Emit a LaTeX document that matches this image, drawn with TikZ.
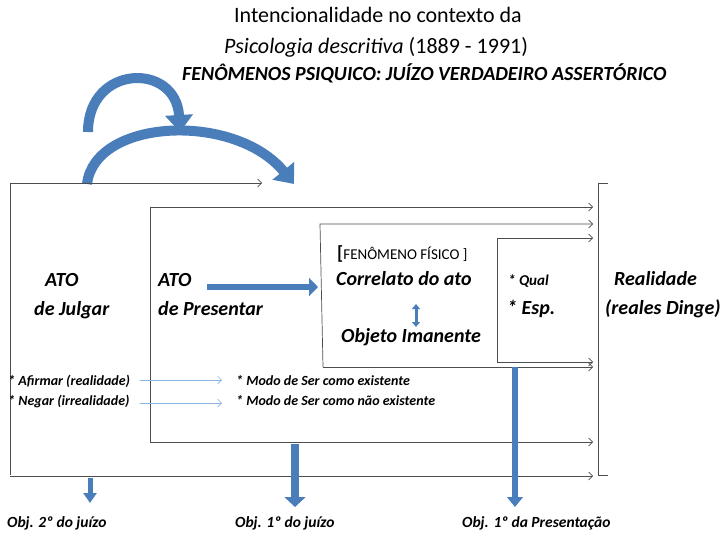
\documentclass[tikz,border=0pt]{standalone}
\usepackage{fontspec}
\setmainfont{Carlito}
\usetikzlibrary{arrows.meta}
\definecolor{officeblue}{HTML}{4A7EBB}
\definecolor{framegray}{HTML}{4D4D4D}
\definecolor{lightarrow}{HTML}{8DB3E2}

\begin{document}
\begin{tikzpicture}[x=1pt, y=-1pt,
            frame/.style={draw=framegray, line width=0.7pt},
            ray/.style={frame, -{Straight Barb[length=4pt, width=8pt]}},
            thinray/.style={draw=lightarrow, line width=0.7pt, -{Straight Barb[length=4pt, width=8pt]}},
            bigbend/.style={draw=officeblue, line width=10pt, -{Triangle[length=17pt, width=27pt]}},
            block/.style={draw=officeblue, line width=#1},
            title/.style={anchor=base, inner sep=0pt, font=\fontsize{22}{26}\selectfont},
            heading/.style={anchor=base west, inner sep=0pt, font=\fontsize{20}{24}\selectfont\bfseries\itshape},
            note/.style={anchor=base west, inner sep=0pt, font=\fontsize{14}{16}\selectfont\bfseries\itshape},
            objlabel/.style={anchor=base west, inner sep=0pt, font=\fontsize{15.5}{18}\selectfont\bfseries\itshape}
        ]
        \useasboundingbox (0,0) rectangle (722,533);

        % Titles
        \node[title] (t1) at (378,22) {Intencionalidade no contexto da};
        \node[title] (t2) at (376,53) {\textit{Psicologia descritiva} (1889 - 1991)};
        \node[anchor=base west, inner sep=0pt, font=\fontsize{20}{24}\selectfont\bfseries\itshape] (t3) at (182,80)
            {FENÔMENOS PSIQUICO: JUÍZO VERDADEIRO ASSERTÓRICO};

        % Curved arrows over the judging act
        \coordinate (c1a) at (88,132);
        \coordinate (c1b) at (180,132);
        \coordinate (c2a) at (87,184);
        \coordinate (c2b) at (294,184);
        \draw[bigbend] (c1a) .. controls (88,64) and (176,62) .. (c1b);
        \draw[bigbend] (c2a) .. controls (95,118) and (235,112) .. (c2b);

        % Nested frames, each one opening to the right
        \draw[ray] (10,475) -- (10,183) -- (262,183);
        \draw[ray] (10,476) -- (593,476);
        \draw[ray] (150,442) -- (150,207) -- (593,207);
        \draw[ray] (150,442) -- (593,442);
        \draw[ray] (323,367) -- (320,224) -- (593,224);
        \draw[ray] (323,367) -- (593,367);
        \draw[ray] (497,362) -- (497,238) -- (593,238);
        \draw[ray] (497,362) -- (593,362);
        \draw[frame] (608,183) -- (598,183) -- (598,475) -- (608,475);

        % Acts
        \node[heading] (atoJ) at (45,286) {ATO};
        \node[heading] (julgar) at (34,315) {de Julgar};
        \node[heading] (atoP) at (158,286) {ATO};
        \node[heading] (presentar) at (158,315) {de Presentar};

        % Physical phenomenon
        \node[anchor=base west, inner sep=0pt, font=\fontsize{15}{18}\selectfont] (fisico) at (337,259)
            {\textbf{\fontsize{19}{21}\selectfont[}FENÔMENO FÍSICO ]};
        \node[heading] (correlato) at (336,285) {Correlato do ato};
        \node[heading] (imanente) at (341,342) {Objeto Imanente};
        \node[anchor=base west, inner sep=0pt, font=\fontsize{15}{17}\selectfont\bfseries\itshape] (qual) at (508,285) {* Qual};
        \node[heading] (esp) at (507,314) {* Esp.};
        \node[heading] (realidade) at (614,285) {Realidade};
        \node[heading] (dinge) at (605,314) {(reales Dinge)};

        % Modes of judging
        \node[note] (afirmar) at (8,385) {* Afirmar (realidade)};
        \node[note] (negar) at (8,405) {* Negar (irrealidade)};
        \node[note] (existe) at (236,385) {* Modo de Ser como existente};
        \node[note] (naoexiste) at (236,405) {* Modo de Ser como não existente};
        \draw[thinray] (140,380) -- (222,380);
        \draw[thinray] (140,403) -- (222,403);

        % Block arrows
        \coordinate (pa) at (207,287);
        \coordinate (pb) at (318,287);
        \draw[block=6pt, -{Triangle[length=9pt, width=18pt]}] (pa) -- (pb);
        \coordinate (da) at (416,304);
        \coordinate (db) at (416,327);
        \draw[block=3pt, {Triangle[length=5pt, width=8pt]}-{Triangle[length=5pt, width=8pt]}] (da) -- (db);

        % Objects
        \node[objlabel] (obj2) at (7,527) {Obj. 2º do juízo};
        \node[objlabel] (obj1) at (235,527) {Obj. 1º do juízo};
        \node[objlabel] (objP) at (462,527) {Obj. 1º da Presentação};
        \foreach \x/\top/\bot/\w in {90/478/503/5, 295/444/507/8, 515/367/507/6} {
                \draw[block=\w pt, -{Triangle[length=10pt, width=2.6*\w pt]}] (\x,\top) -- (\x,\bot);
            }
    \end{tikzpicture}
\end{document}
